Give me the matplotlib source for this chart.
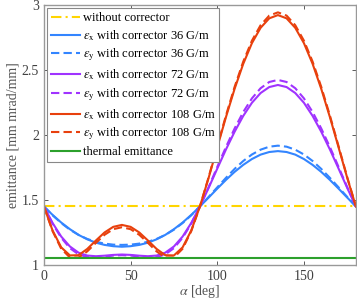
import numpy as np
import matplotlib.pyplot as plt

plt.rcParams['font.family'] = ['Liberation Serif', 'DejaVu Serif']
plt.rcParams['mathtext.fontset'] = 'stix'

# rotation angle [deg]
alpha = np.arange(0, 181, 5)

# emittance values, 0..180 deg in 5 deg steps
eps_x_36 = [1.450, 1.385, 1.326, 1.275, 1.231, 1.197, 1.171, 1.154, 1.144, 1.140,
            1.144, 1.154, 1.171, 1.197, 1.231, 1.275, 1.326, 1.385, 1.450,
            1.518, 1.587, 1.654, 1.716, 1.770, 1.815, 1.849, 1.869, 1.876,
            1.869, 1.849, 1.815, 1.770, 1.716, 1.654, 1.587, 1.518, 1.450]
eps_y_36 = [1.450, 1.382, 1.322, 1.271, 1.231, 1.200, 1.178, 1.164, 1.156, 1.154,
            1.156, 1.164, 1.178, 1.200, 1.231, 1.271, 1.322, 1.382, 1.450,
            1.523, 1.597, 1.670, 1.739, 1.800, 1.850, 1.887, 1.910, 1.918,
            1.910, 1.887, 1.850, 1.800, 1.739, 1.670, 1.597, 1.523, 1.450]
eps_x_72 = [1.450, 1.323, 1.218, 1.142, 1.094, 1.072, 1.067, 1.071, 1.077, 1.080,
            1.077, 1.071, 1.067, 1.072, 1.094, 1.142, 1.218, 1.323, 1.450,
            1.592, 1.741, 1.888, 2.025, 2.147, 2.248, 2.323, 2.369, 2.385,
            2.369, 2.323, 2.248, 2.147, 2.025, 1.888, 1.741, 1.592, 1.450]
eps_y_72 = [1.450, 1.317, 1.209, 1.129, 1.081, 1.060, 1.057, 1.064, 1.072, 1.075,
            1.072, 1.064, 1.057, 1.060, 1.081, 1.129, 1.209, 1.317, 1.450,
            1.598, 1.754, 1.907, 2.050, 2.177, 2.282, 2.360, 2.408, 2.424,
            2.408, 2.360, 2.282, 2.177, 2.050, 1.907, 1.754, 1.598, 1.450]
eps_x_108 = [1.450, 1.265, 1.135, 1.073, 1.075, 1.123, 1.188, 1.250, 1.293, 1.308,
             1.293, 1.250, 1.188, 1.123, 1.075, 1.073, 1.135, 1.265, 1.450,
             1.669, 1.904, 2.137, 2.355, 2.548, 2.707, 2.825, 2.898, 2.923,
             2.898, 2.825, 2.707, 2.548, 2.355, 2.137, 1.904, 1.669, 1.450]
eps_y_108 = [1.450, 1.260, 1.124, 1.057, 1.057, 1.104, 1.170, 1.232, 1.275, 1.290,
             1.275, 1.232, 1.170, 1.104, 1.057, 1.057, 1.124, 1.260, 1.450,
             1.674, 1.913, 2.149, 2.370, 2.565, 2.726, 2.845, 2.919, 2.944,
             2.919, 2.845, 2.726, 2.565, 2.370, 2.149, 1.913, 1.674, 1.450]
eps_no_corr = 1.455
eps_thermal = 1.05

c_yel = '#ffd500'
c_blu = '#3385ff'
c_pur = '#a033ff'
c_red = '#e8400d'
c_grn = '#2ca02c'

fig = plt.figure(figsize=(3.57, 2.99), dpi=100)
ax = fig.add_axes([0.123, 0.114, 0.874, 0.869])

dash = (0, (4, 2))
ax.plot([0, 180], [eps_no_corr, eps_no_corr], color=c_yel, lw=1.5,
        linestyle=(0, (5, 2, 1, 2)), label='without corrector')
ax.plot(alpha, eps_x_36, color=c_blu, lw=1.5,
        label=r'$\epsilon_{\mathrm{x}}$ with corrector 36 G/m')
ax.plot(alpha, eps_y_36, color=c_blu, lw=1.5, linestyle=dash,
        label=r'$\epsilon_{\mathrm{y}}$ with corrector 36 G/m')
ax.plot(alpha, eps_x_72, color=c_pur, lw=1.5,
        label=r'$\epsilon_{\mathrm{x}}$ with corrector 72 G/m')
ax.plot(alpha, eps_y_72, color=c_pur, lw=1.5, linestyle=dash,
        label=r'$\epsilon_{\mathrm{y}}$ with corrector 72 G/m')
ax.plot(alpha, eps_x_108, color=c_red, lw=1.5,
        label=r'$\epsilon_{\mathrm{x}}$ with corrector 108 G/m')
ax.plot(alpha, eps_y_108, color=c_red, lw=1.5, linestyle=dash,
        label=r'$\epsilon_{\mathrm{y}}$ with corrector 108 G/m')
ax.plot([0, 180], [eps_thermal, eps_thermal], color=c_grn, lw=1.5,
        label='thermal emittance')

ax.set_xlim(0, 180)
ax.set_ylim(1, 3)
ax.set_xticks([0, 50, 100, 150])
ax.set_yticks([1, 1.5, 2, 2.5, 3])
ax.set_yticklabels(['1', '1.5', '2', '2.5', '3'])
ax.tick_params(direction='in', top=True, right=True, labelsize=10,
               colors='#404040', length=3, width=0.6)
for s in ax.spines.values():
    s.set_color('#999999')
    s.set_linewidth(1.0)
ax.set_xlabel(r'$\alpha$ [deg]', fontsize=10, color='#555555', labelpad=0)
ax.set_ylabel('emittance [mm mrad/mm]', fontsize=10, color='#555555', labelpad=2)

leg = ax.legend(loc='upper left', fontsize=9, handlelength=2.3, handletextpad=0.25,
                labelspacing=0.32, borderaxespad=0.25, borderpad=0.3,
                fancybox=False, framealpha=1, edgecolor='#888888')
leg.get_frame().set_linewidth(0.8)

fig.savefig('out.png', dpi=100)
